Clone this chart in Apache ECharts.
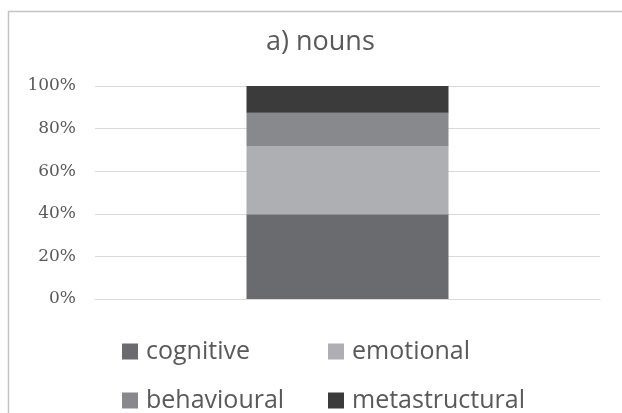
<!DOCTYPE html>
<html>
<head>
<meta charset="utf-8">
<script src="https://cdn.jsdelivr.net/npm/echarts@6/dist/echarts.min.js"></script>
<style>
  html, body { margin: 0; padding: 0; background: #fff; }
  #chart { width: 622px; height: 413px; }
</style>
</head>
<body>
<div id="chart"></div>
<script>
  var categories = ['nouns'];
  var cognitive = [39.8];
  var emotional = [32.0];
  var behavioural = [15.7];
  var metastructural = [12.5];
  var yTicks = [0, 20, 40, 60, 80, 100];

  var colors = {
    cognitive: '#6a6b6f',
    emotional: '#aeafb2',
    behavioural: '#88898d',
    metastructural: '#3b3b3c'
  };

  var myChart = echarts.init(document.getElementById('chart'));

  function barSeries (name, data) {
    return {
      name: name,
      type: 'bar',
      stack: 'total',
      barWidth: 202,
      itemStyle: { color: colors[name] },
      emphasis: { disabled: true },
      data: data
    };
  }

  // one legend per item so the two columns line up like the original
  function legendItem (name, left, top) {
    return {
      left: left,
      top: top,
      padding: 0,
      itemWidth: 16,
      itemHeight: 16,
      icon: 'rect',
      textStyle: {
        color: '#595959',
        fontSize: 25,
        fontFamily: 'Open Sans',
        padding: [0, 0, 0, 3]
      },
      data: [name]
    };
  }

  myChart.setOption({
    animation: false,
    title: {
      text: 'a) nouns',
      left: 261,
      top: 24,
      textStyle: {
        color: '#595959',
        fontSize: 27,
        fontWeight: 'normal',
        fontFamily: 'Open Sans'
      }
    },
    graphic: [
      {
        type: 'polyline',
        shape: { points: [[8.5, 413], [8.5, 11.5], [622, 11.5]] },
        style: { stroke: '#c4c4c4', lineWidth: 1.5, fill: null },
        silent: true
      }
    ],
    legend: [
      legendItem('cognitive', 122, 339),
      legendItem('emotional', 328, 339),
      legendItem('behavioural', 122, 388),
      legendItem('metastructural', 328, 388)
    ],
    grid: {
      left: 95,
      right: 22,
      top: 86,
      bottom: 114,
      containLabel: false
    },
    xAxis: {
      type: 'category',
      data: categories,
      axisLine: { show: true, lineStyle: { color: '#d9d9d9' } },
      axisTick: { show: false },
      axisLabel: { show: false }
    },
    yAxis: {
      type: 'value',
      min: yTicks[0],
      max: yTicks[yTicks.length - 1],
      interval: 20,
      axisLine: { show: false },
      axisTick: { show: false },
      splitLine: { lineStyle: { color: '#d9d9d9' } },
      axisLabel: {
        formatter: '{value}%',
        margin: 19,
        color: '#595959',
        fontSize: 17,
        fontFamily: 'DejaVu Serif'
      }
    },
    series: [
      barSeries('cognitive', cognitive),
      barSeries('emotional', emotional),
      barSeries('behavioural', behavioural),
      barSeries('metastructural', metastructural)
    ]
  });
</script>
</body>
</html>
